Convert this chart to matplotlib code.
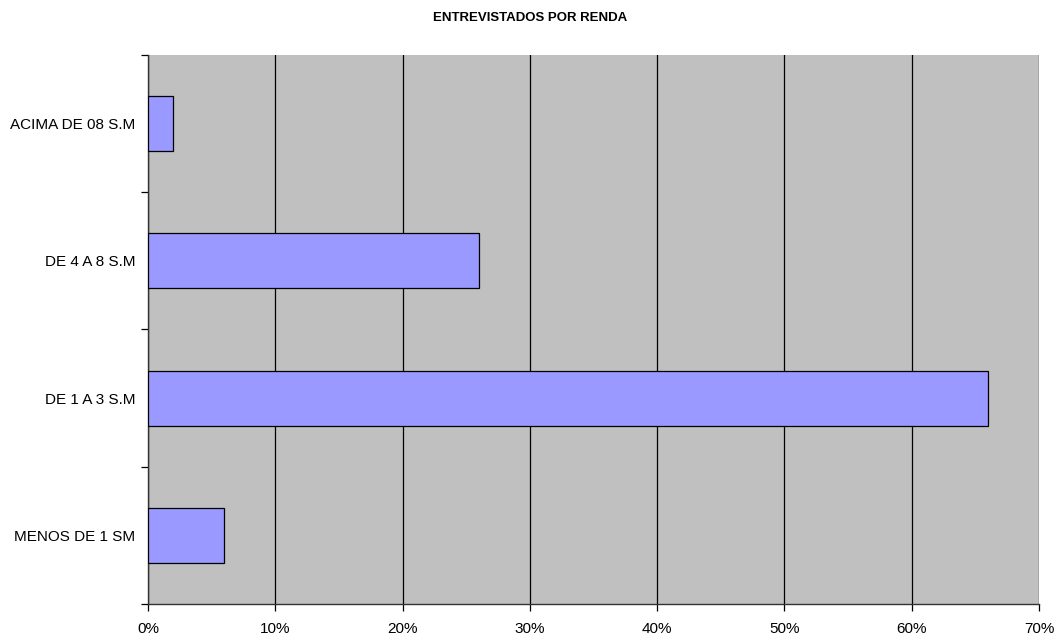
import numpy as np
import matplotlib
matplotlib.use("Agg")
import matplotlib.pyplot as plt
from matplotlib.ticker import FixedLocator

plt.rcParams['font.family'] = ['Liberation Sans', 'DejaVu Sans']

categorias = ['MENOS DE 1 SM', 'DE 1 A 3 S.M', 'DE 4 A 8 S.M', 'ACIMA DE 08 S.M']
percentuais = [6, 66, 26, 2]
xticks = [0, 10, 20, 30, 40, 50, 60, 70]

fig = plt.figure(figsize=(10.6, 6.39), dpi=100)
ax = fig.add_axes([0.1396, 0.0548, 0.8406, 0.8592])
ax.set_facecolor('#c0c0c0')

y = np.arange(len(categorias))
ax.barh(y, percentuais, height=0.4, color='#9999ff', edgecolor='black', linewidth=0.9, zorder=3)

ax.set_xlim(0, 70)
ax.set_ylim(-0.5, len(categorias) - 0.5)
ax.set_xticks(xticks)
ax.set_xticklabels(['%d%%' % v for v in xticks], fontsize=11)
ax.xaxis.grid(True, color='black', linewidth=0.9, zorder=1)
ax.tick_params(axis='x', length=5, width=0.9, direction='out', pad=8)

ax.set_yticks(y)
ax.set_yticklabels(categorias, fontsize=11)
ax.yaxis.set_minor_locator(FixedLocator(np.arange(-0.5, len(categorias), 1.0)))
ax.tick_params(axis='y', which='major', length=0, pad=9)
ax.tick_params(axis='y', which='minor', length=5, width=0.9, direction='out')

for s in ['top', 'right']:
    ax.spines[s].set_visible(False)
for s in ['left', 'bottom']:
    ax.spines[s].set_color('#333333')
    ax.spines[s].set_linewidth(1.0)

fig.text(0.5, 0.972, 'ENTREVISTADOS POR RENDA', ha='center', va='center',
         fontsize=9.5, fontweight='bold')

plt.savefig('out.png', dpi=100)
